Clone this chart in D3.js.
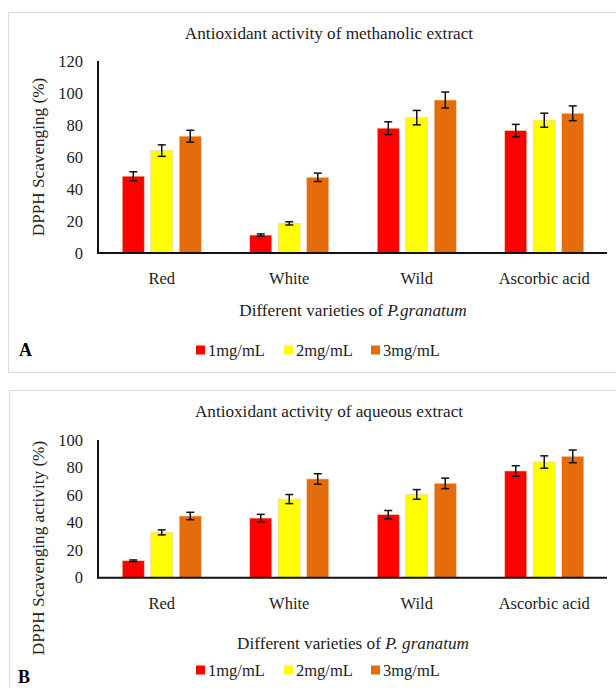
<html>
<head>
<meta charset="utf-8">
<script src="https://d3js.org/d3.v7.min.js"></script>
<style>
  body { margin: 0; background: #ffffff; }
  svg text { font-family: "Liberation Serif", "Times New Roman", serif; fill: #222; }
</style>
</head>
<body>
<script>
    // ---- data ----
    var categories = ["Red", "White", "Wild", "Ascorbic acid"];
    var series = ["1mg/mL", "2mg/mL", "3mg/mL"];
    var colors = ["#ff0000", "#ffff00", "#e46c0a"];

    // A: methanolic extract, one array per concentration (Red, White, Wild, Ascorbic acid)
    var methanol1 = [48, 11.2, 78, 76.5];
    var methanol2 = [64, 18.5, 84.6, 83];
    var methanol3 = [73, 47.3, 95.6, 87.3];
    var methanolErr1 = [2.8, 0.7, 4, 3.9];
    var methanolErr2 = [3.6, 1, 4.5, 4.4];
    var methanolErr3 = [3.7, 2.6, 5, 4.6];
    var methanolTicks = [0, 20, 40, 60, 80, 100, 120];

    // B: aqueous extract
    var aqueous1 = [12.3, 43.3, 45.8, 77.5];
    var aqueous2 = [32.9, 57.1, 60.5, 84];
    var aqueous3 = [44.8, 71.7, 68.5, 88.1];
    var aqueousErr1 = [0.6, 2.7, 3, 3.8];
    var aqueousErr2 = [1.8, 3.3, 3.5, 4.5];
    var aqueousErr3 = [2.7, 3.8, 3.8, 4.6];
    var aqueousTicks = [0, 20, 40, 60, 80, 100];

    var svg = d3.select("body").append("svg")
        .attr("width", 616)
        .attr("height", 688);

    var fontSize = 16.5;
    var titleSize = 17.2;

    function drawPanel(cfg) {
        var g = svg.append("g");

        // panel frame
        g.append("rect")
            .attr("x", cfg.box[0]).attr("y", cfg.box[1])
            .attr("width", cfg.box[2]).attr("height", cfg.box[3])
            .attr("fill", "none")
            .attr("stroke", "#dcdcdc")
            .attr("stroke-width", 1);

        var x0 = d3.scaleBand().domain(categories).range([98, 608]);
        var x1 = d3.scaleBand().domain(series).range([0, 79]).paddingInner(0.228);
        var y = d3.scaleLinear().domain([0, cfg.ticks[cfg.ticks.length - 1]]).range([cfg.bottom, cfg.top]);

        // title
        g.append("text")
            .attr("x", 329).attr("y", cfg.titleY)
            .attr("text-anchor", "middle")
            .attr("dominant-baseline", "central")
            .style("font-size", titleSize + "px")
            .text(cfg.title);

        // y tick labels
        g.selectAll(".ytick").data(cfg.ticks).enter().append("text")
            .attr("x", 83)
            .attr("y", function (d) { return y(d); })
            .attr("text-anchor", "end")
            .attr("dominant-baseline", "central")
            .style("font-size", fontSize + "px")
            .text(function (d) { return d; });

        // y axis title
        g.append("text")
            .attr("transform", "translate(38," + cfg.yTitleY + ") rotate(-90)")
            .attr("text-anchor", "middle")
            .attr("dominant-baseline", "central")
            .style("font-size", titleSize + "px")
            .text(cfg.yTitle);

        // bars
        var groups = g.selectAll(".grp").data(categories).enter().append("g")
            .attr("transform", function (d) {
                return "translate(" + (x0(d) + (x0.bandwidth() - 79) / 2) + ",0)";
            });

        groups.each(function (cat, ci) {
            var gg = d3.select(this);
            var rows = series.map(function (s, si) {
                return { s: s, si: si, v: cfg.values[si][ci], e: cfg.errors[si][ci] };
            });
            gg.selectAll("rect").data(rows).enter().append("rect")
                .attr("x", function (d) { return x1(d.s); })
                .attr("y", function (d) { return y(d.v); })
                .attr("width", x1.bandwidth())
                .attr("height", function (d) { return y(0) - y(d.v); })
                .attr("fill", function (d) { return colors[d.si]; })
                .attr("stroke", "#f3c9a8")
                .attr("stroke-width", 0.6);

            // error bars
            var eb = gg.selectAll(".err").data(rows).enter().append("g")
                .attr("stroke", "#111")
                .attr("stroke-width", 1.5);
            eb.append("line")
                .attr("x1", function (d) { return x1(d.s) + x1.bandwidth() / 2; })
                .attr("x2", function (d) { return x1(d.s) + x1.bandwidth() / 2; })
                .attr("y1", function (d) { return y(d.v + d.e); })
                .attr("y2", function (d) { return y(d.v - d.e); });
            [1, -1].forEach(function (sign) {
                eb.append("line")
                    .attr("x1", function (d) { return x1(d.s) + x1.bandwidth() / 2 - 4; })
                    .attr("x2", function (d) { return x1(d.s) + x1.bandwidth() / 2 + 4; })
                    .attr("y1", function (d) { return y(d.v + sign * d.e); })
                    .attr("y2", function (d) { return y(d.v + sign * d.e); });
            });
        });

        // axes lines
        g.append("line")
            .attr("x1", 98).attr("x2", 98)
            .attr("y1", y(0)).attr("y2", y.range()[1])
            .attr("stroke", "#111").attr("stroke-width", 2);
        g.append("line")
            .attr("x1", 97).attr("x2", 607)
            .attr("y1", y(0)).attr("y2", y(0))
            .attr("stroke", "#111").attr("stroke-width", 2);

        // category labels
        g.selectAll(".cat").data(categories).enter().append("text")
            .attr("x", function (d) { return x0(d) + x0.bandwidth() / 2; })
            .attr("y", cfg.catY)
            .attr("text-anchor", "middle")
            .attr("dominant-baseline", "central")
            .style("font-size", fontSize + "px")
            .text(function (d) { return d; });

        // x axis title
        var xt = g.append("text")
            .attr("x", 353).attr("y", cfg.xTitleY)
            .attr("text-anchor", "middle")
            .attr("dominant-baseline", "central")
            .style("font-size", titleSize + "px");
        xt.append("tspan").text("Different varieties of ");
        xt.append("tspan").style("font-style", "italic").text(cfg.species);

        // legend
        var legendX = [196, 284, 371];
        var lg = g.selectAll(".leg").data(series).enter().append("g")
            .attr("transform", function (d, i) { return "translate(" + legendX[i] + "," + cfg.legendY + ")"; });
        lg.append("rect")
            .attr("x", 0).attr("y", -4.5)
            .attr("width", 9).attr("height", 9)
            .attr("fill", function (d, i) { return colors[i]; });
        lg.append("text")
            .attr("x", 12).attr("y", 0)
            .attr("dominant-baseline", "central")
            .style("font-size", fontSize + "px")
            .text(function (d) { return d; });

        // panel letter
        g.append("text")
            .attr("x", cfg.letterX).attr("y", cfg.letterY)
            .attr("dominant-baseline", "central")
            .style("font-size", "18px")
            .style("font-weight", "bold")
            .style("fill", "#000")
            .text(cfg.letter);
    }

    drawPanel({
        box: [8.5, 12.5, 620, 360],
        title: "Antioxidant activity of methanolic extract",
        titleY: 33,
        yTitle: "DPPH Scavenging (%)",
        yTitleY: 157,
        ticks: methanolTicks,
        top: 61, bottom: 253,
        values: [methanol1, methanol2, methanol3],
        errors: [methanolErr1, methanolErr2, methanolErr3],
        catY: 278,
        xTitleY: 310,
        species: "P.granatum",
        legendY: 350,
        letter: "A", letterX: 19, letterY: 350
    });

    drawPanel({
        box: [9.5, 390.5, 620, 320],
        title: "Antioxidant activity of aqueous extract",
        titleY: 411,
        yTitle: "DPPH Scavenging activity (%)",
        yTitleY: 548,
        ticks: aqueousTicks,
        top: 440, bottom: 577.7,
        values: [aqueous1, aqueous2, aqueous3],
        errors: [aqueousErr1, aqueousErr2, aqueousErr3],
        catY: 603,
        xTitleY: 643,
        species: "P. granatum",
        legendY: 670,
        letter: "B", letterX: 18, letterY: 677
    });
</script>
</body>
</html>
